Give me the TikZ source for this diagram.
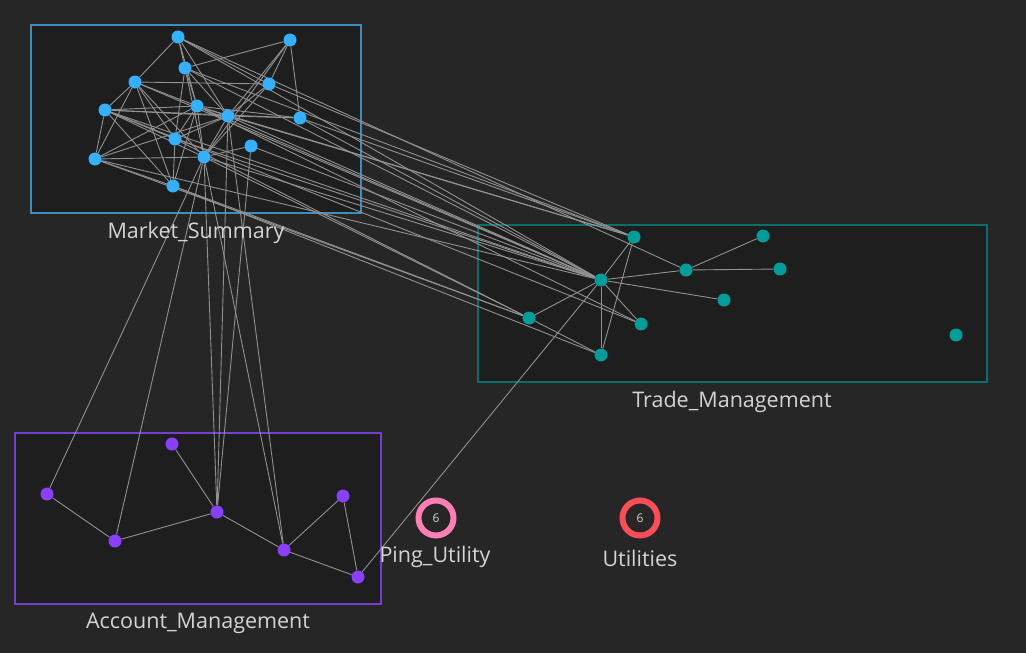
\documentclass[tikz,border=0pt]{standalone}
\usepackage{fontspec}
\setmainfont{Open Sans}
\pgfdeclarelayer{bg}
\pgfdeclarelayer{edges}
\pgfsetlayers{bg,edges,main}
\definecolor{bgc}{HTML}{262626}
\definecolor{boxfill}{HTML}{1E1E1E}
\definecolor{msc}{HTML}{33B1FF}
\definecolor{msb}{HTML}{3D8EBF}
\definecolor{tmc}{HTML}{009D9A}
\definecolor{tmb}{HTML}{0B6E6B}
\definecolor{amc}{HTML}{8A3FFC}
\definecolor{amb}{HTML}{7440D0}
\definecolor{edgec}{HTML}{919191}
\definecolor{txt}{HTML}{D4D4D4}
\definecolor{pinkc}{HTML}{FF7EB6}
\definecolor{redc}{HTML}{FA4D56}
\begin{document}
\begin{tikzpicture}[x=1pt,y=-1pt,
  dot/.style={circle,inner sep=0pt,minimum size=13pt},
  ms/.style={dot,fill=msc},
  tm/.style={dot,fill=tmc},
  am/.style={dot,fill=amc},
  grp/.style={line width=1.2pt,fill=boxfill},
  lbl/.style={text=txt,font=\fontsize{21.5}{25}\selectfont},
  ed/.style={draw=edgec,line width=0.9pt},
  ring/.style={circle,line width=6pt,minimum size=35pt,inner sep=0pt,fill=bgc,text=txt,font=\fontsize{12}{13}\selectfont}]
\begin{pgfonlayer}{bg}
\fill[bgc] (0,0) rectangle (1026,653);
\draw[grp,draw=msb] (31,25) rectangle (361,213);
\draw[grp,draw=tmb] (478,225) rectangle (987,382);
\draw[grp,draw=amb] (15,433) rectangle (381,604);
\end{pgfonlayer}
\useasboundingbox (0,0) rectangle (1026,653);
% Market_Summary
\node[ms] (m1) at (178,37) {};
\node[ms] (m2) at (290,40) {};
\node[ms] (m3) at (185,68) {};
\node[ms] (m4) at (135,82) {};
\node[ms] (m5) at (269,84) {};
\node[ms] (m6) at (105,110) {};
\node[ms] (m7) at (197,106) {};
\node[ms] (m8) at (228,116) {};
\node[ms] (m9) at (300,118) {};
\node[ms] (m10) at (175,139) {};
\node[ms] (m11) at (251,146) {};
\node[ms] (m12) at (95,159) {};
\node[ms] (m13) at (204,157) {};
\node[ms] (m14) at (173,186) {};
% Trade_Management
\node[tm] (t1) at (634,237) {};
\node[tm] (t2) at (763,236) {};
\node[tm] (t3) at (686,270) {};
\node[tm] (t4) at (780,269) {};
\node[tm] (t5) at (601,280) {};
\node[tm] (t6) at (724,300) {};
\node[tm] (t7) at (529,318) {};
\node[tm] (t8) at (641,324) {};
\node[tm] (t9) at (601,355) {};
\node[tm] (t10) at (956,335) {};
% Account_Management
\node[am] (a1) at (172,444) {};
\node[am] (a2) at (47,494) {};
\node[am] (a3) at (217,512) {};
\node[am] (a4) at (343,496) {};
\node[am] (a5) at (115,541) {};
\node[am] (a6) at (284,550) {};
\node[am] (a7) at (358,577) {};
% utilities
\node[ring,draw=pinkc] (p1) at (436,518) {6};
\node[ring,draw=redc] (u1) at (640,518) {6};
% labels
\node[lbl] (lms) at (196,233) {Market\_Summary};
\node[lbl] (ltm) at (732,402) {Trade\_Management};
\node[lbl] (lam) at (198,623) {Account\_Management};
\node[lbl] (lpu) at (435,557) {Ping\_Utility};
\node[lbl] (lut) at (640,558) {Utilities};
\begin{pgfonlayer}{edges}
% market internal
\foreach \a/\b in {m1/m3,m1/m4,m1/m7,m1/m8,m1/m5,m2/m3,m2/m5,m2/m9,m2/m8,m2/m13,
  m3/m7,m3/m10,m3/m13,m3/m8,m4/m5,m4/m6,m4/m7,m4/m10,m4/m12,m4/m14,m4/m13,
  m6/m7,m6/m8,m6/m9,m6/m12,m6/m10,m6/m13,m6/m14,m7/m8,m7/m9,m7/m10,m7/m12,m7/m14,
  m7/m13,m8/m9,m8/m13,m8/m12,m10/m14,m11/m13,m12/m13,m12/m14,m5/m13,m5/m8,m10/m8}
  \draw[ed] (\a) -- (\b);
% market to trade
\foreach \a/\b in {m1/t5,m4/t5,m6/t5,m7/t5,m8/t5,m10/t5,m12/t5,m13/t5,m3/t5,m11/t5,
  m5/t1,m8/t1,m9/t1,m3/t1,m7/t1,
  m10/t7,m13/t7,m14/t7,m12/t7,
  m7/t8,m6/t8,m14/t9,m1/t3,m9/t5}
  \draw[ed] (\a) -- (\b);
% market to account
\foreach \a/\b in {a2/m13,a5/m13,a3/m13,a3/m8,a3/m11,a6/m13,a6/m8}
  \draw[ed] (\a) -- (\b);
% trade internal
\foreach \a/\b in {t1/t5,t1/t9,t5/t3,t3/t2,t3/t4,t5/t6,t5/t7,t5/t8,t5/t9,t7/t9}
  \draw[ed] (\a) -- (\b);
% account internal
\foreach \a/\b in {a2/a5,a5/a3,a1/a3,a3/a6,a6/a4,a4/a7,a6/a7,a7/t5}
  \draw[ed] (\a) -- (\b);
\end{pgfonlayer}
\end{tikzpicture}
\end{document}
